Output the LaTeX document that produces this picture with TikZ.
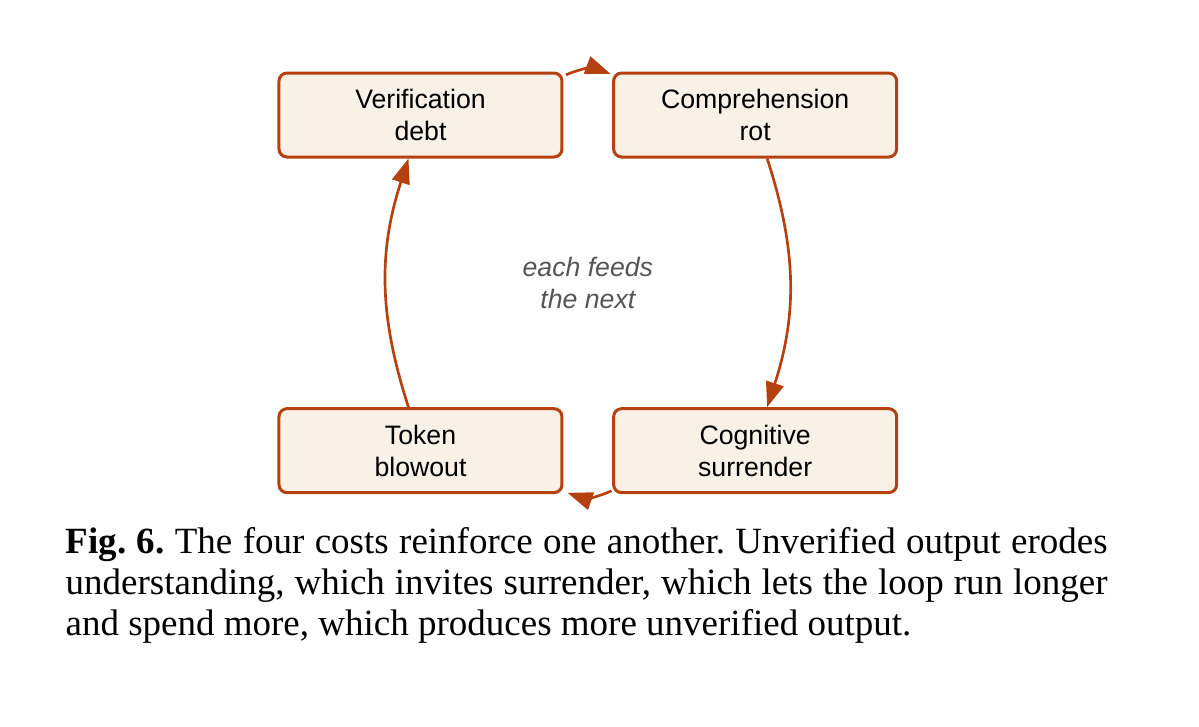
\documentclass[tikz,border=0pt]{standalone}
\usepackage{fontspec}
\setmainfont{Liberation Serif}
\setsansfont{Liberation Sans}
\usepackage{tikz}
\usetikzlibrary{positioning,arrows.meta}
\definecolor{rust}{RGB}{180,65,15}
\definecolor{cream}{RGB}{250,241,230}
\definecolor{notegray}{RGB}{85,85,85}

\begin{document}
\begin{tikzpicture}[cost/.style={rectangle,rounded corners=2.4pt,draw=rust,line width=0.9pt,fill=cream,
    minimum width=84.9pt,minimum height=25.2pt,align=center,font=\sffamily\fontsize{8}{9.6}\selectfont},
  feed/.style={draw=rust,line width=0.8pt,-{Triangle[length=7.5pt,width=5.4pt]}},
  node distance=74.6pt and 14.6pt]
\useasboundingbox (-126.15pt,34.5pt) rectangle (233.55pt,-183.3pt);
\node [cost] (v) {Verification\\debt};
\node [cost,right=of v] (r) {Comprehension\\rot};
\node [cost,below=of v] (t) {Token\\blowout};
\node [cost,below=of r] (s) {Cognitive\\surrender};
% the loop
\draw [feed] ([shift={(0.75pt,-1pt)}]v.north east) to[bend left=22] ([shift={(-0.5pt,-0.7pt)}]r.north west);
\draw [feed] ([xshift=3.6pt]r.south) to[bend left=18] ([xshift=3.6pt]s.north);
\draw [feed] ([shift={(-0.2pt,1pt)}]s.south west) to[bend left=22] ([shift={(1.2pt,0.4pt)}]t.south east);
\draw [feed] ([xshift=-3.6pt]t.north) to[bend left=18] ([xshift=-3.6pt]v.south);
\path (v) -- (s) node [midway,align=center,text=notegray,font=\sffamily\itshape\fontsize{8}{9.6}\selectfont] (n) {each feeds\\the next};
\node [anchor=north west,inner sep=0pt,align=left,font=\fontsize{11.1}{12.3}\selectfont\frenchspacing] (cap) at (-106.65pt,-122.6pt)
  {\makebox[312.6pt][s]{\strut\textbf{Fig. 6.} The four costs reinforce one another. Unverified output erodes}\\
   \makebox[312.6pt][s]{understanding, which invites surrender, which lets the loop run longer}\\
   and spend more, which produces more unverified output.};
\end{tikzpicture}
\end{document}
